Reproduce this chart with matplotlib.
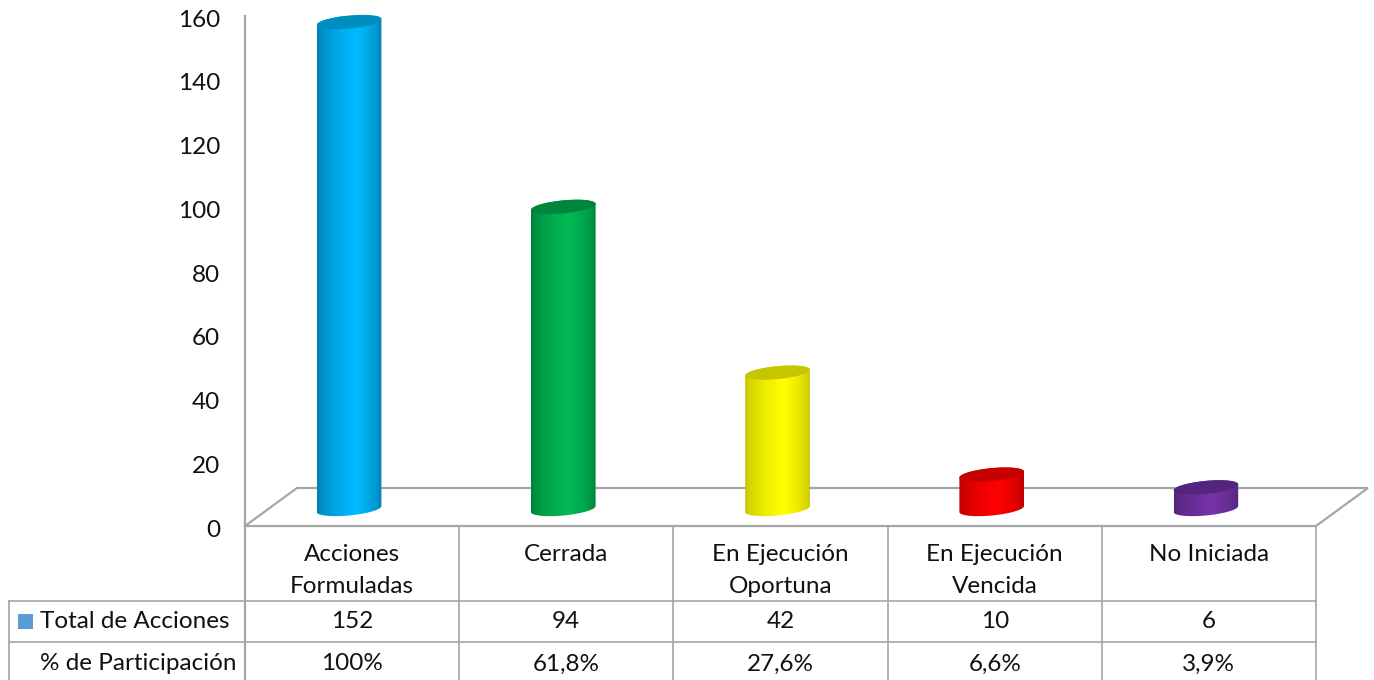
import numpy as np
import matplotlib
matplotlib.use("Agg")
import matplotlib.pyplot as plt
from matplotlib.path import Path
from matplotlib.patches import PathPatch
from matplotlib.transforms import ScaledTranslation

# ── data ─────────────────────────────────────────────
categorias = ["Acciones\nFormuladas", "Cerrada", "En Ejecución\nOportuna",
              "En Ejecución\nVencida", "No Iniciada"]
total_acciones = [152, 94, 42, 10, 6]
participacion = ["100%", "61,8%", "27,6%", "6,6%", "3,9%"]
y_ticks = [0, 20, 40, 60, 80, 100, 120, 140, 160]

# centre / edge / cap colour of each cylinder
col_centro = ["#00BBFF", "#00BA55", "#FFFF00", "#FF0000", "#7632A8"]
col_borde = ["#0076A6", "#007A38", "#BDBD00", "#B40000", "#4E2272"]
col_tapa = ["#008DC0", "#00863C", "#C6C600", "#C40000", "#54257C"]

GRIS = "#A6A6A6"
FONT = "Lato"
FS = 17.5

W, H = 1374, 680
X0, X1 = 245, 1316   # plot wall / right end in pixels
Y0, Y1 = 526, 16     # value 0 / value 160 in pixels

fig = plt.figure(figsize=(W / 100, H / 100), dpi=100, facecolor="white")
ax = fig.add_axes([X0 / W, 1 - Y0 / H, (X1 - X0) / W, (Y0 - Y1) / H])
ax.set_facecolor("none")

px_cat = (X1 - X0) / 5
px_val = (Y0 - Y1) / 160


def dx(px):
    return px / px_cat


def dy(px):
    return px / px_val


def xp(px):
    return (px - X0) / px_cat


def yp(px):
    return (Y0 - px) / px_val


# ── floor ────────────────────────────────────────────
prof_x, prof_y = dx(52), dy(38)
ax.plot([0, prof_x, 5 + prof_x, 5, 0], [0, prof_y, prof_y, 0, 0],
        color=GRIS, lw=1.6, clip_on=False, zorder=1, solid_joinstyle="miter")

# ── cylinders ────────────────────────────────────────
a = dx(32.3)
b = dy(6.5)
incl = dy(3) / a      # ellipses rise towards the right
t_inf = np.linspace(np.pi, 2 * np.pi, 60)
t_sup = np.linspace(0, np.pi, 60)
t_full = np.linspace(0, 2 * np.pi, 120)

for i, val in enumerate(total_acciones):
    cx = i + 0.5 - dx(3.0)
    base = dy(17)
    tope = val + dy(19.5)

    xs = cx + a * np.cos(t_inf)
    low = base + b * np.sin(t_inf) + incl * (xs - cx)
    xu = cx + a * np.cos(t_sup)
    upp = tope + b * np.sin(t_sup) + incl * (xu - cx)
    vert = np.vstack([np.column_stack([xs, low]),
                      np.column_stack([xu, upp]),
                      [[xs[0], low[0]]]])
    body = PathPatch(Path(vert), fc="none", ec="none", transform=ax.transData)
    ax.add_patch(body)

    # horizontal shading, brightest a little right of the middle
    u = np.linspace(0, 1, 256)
    perfil = np.where(u < 0.6, u / 0.6, (1 - u) / 0.4) ** 0.5
    c1 = np.array(matplotlib.colors.to_rgb(col_borde[i]))
    c2 = np.array(matplotlib.colors.to_rgb(col_centro[i]))
    img = (c1[None, :] + (c2 - c1)[None, :] * perfil[:, None])[None, :, :]
    im = ax.imshow(img, extent=[cx - a, cx + a, base - 2 * b, tope + 2 * b],
                   aspect="auto", zorder=3, interpolation="bilinear")
    im.set_clip_path(body)

    xc = cx + a * np.cos(t_full)
    yc = tope + b * np.sin(t_full) + incl * (xc - cx)
    ax.fill(xc, yc, color=col_tapa[i], lw=0, zorder=4, clip_on=False)

# ── axes ─────────────────────────────────────────────
ax.set_xlim(0, 5)
ax.set_ylim(0, 160)
ax.set_xticks([])
ax.set_yticks(y_ticks)
ax.tick_params(axis="y", length=0, pad=18, labelsize=FS, labelcolor="#111111")
baja = ScaledTranslation(0, -1.5 / 72, fig.dpi_scale_trans)
for lab in ax.get_yticklabels():
    lab.set_fontfamily(FONT)
    lab.set_transform(lab.get_transform() + baja)
for s in ["top", "right", "bottom"]:
    ax.spines[s].set_visible(False)
ax.spines["left"].set_color(GRIS)
ax.spines["left"].set_linewidth(1.6)

# ── data table under the chart ───────────────────────
fila_1, fila_2, fila_3 = yp(601), yp(642), yp(680)
lx = xp(9)
ax.plot([0, 0], [0, fila_3], color=GRIS, lw=1.6, clip_on=False, zorder=1)
for j in range(1, 6):
    ax.plot([j, j], [0, fila_3], color=GRIS, lw=1.2, clip_on=False, zorder=1)
ax.plot([lx, lx], [fila_1, fila_3], color=GRIS, lw=1.2, clip_on=False)
ax.plot([lx, 5], [fila_1, fila_1], color=GRIS, lw=1.2, clip_on=False)
ax.plot([lx, 5], [fila_2, fila_2], color=GRIS, lw=1.2, clip_on=False)

for i, nombre in enumerate(categorias):
    ax.text(i + 0.5, yp(544), nombre, ha="center", va="top", fontsize=FS,
            family=FONT, color="#111111", linespacing=1.66, clip_on=False)
    ax.text(i + 0.5, yp(622), str(total_acciones[i]), ha="center", va="center",
            fontsize=FS, family=FONT, color="#111111")
    ax.text(i + 0.5, yp(664), participacion[i], ha="center", va="center",
            fontsize=FS, family=FONT, color="#111111")

ax.fill([xp(18), xp(33), xp(33), xp(18)], [yp(614), yp(614), yp(629), yp(629)],
        color="#5B9BD5", lw=0, clip_on=False)
ax.text(xp(40), yp(622), "Total de Acciones", ha="left", va="center",
        fontsize=FS, family=FONT, color="#111111")
ax.text(xp(40), yp(664), "% de Participación", ha="left", va="center",
        fontsize=FS, family=FONT, color="#111111")

fig.savefig("out.png", dpi=100, facecolor="white")
